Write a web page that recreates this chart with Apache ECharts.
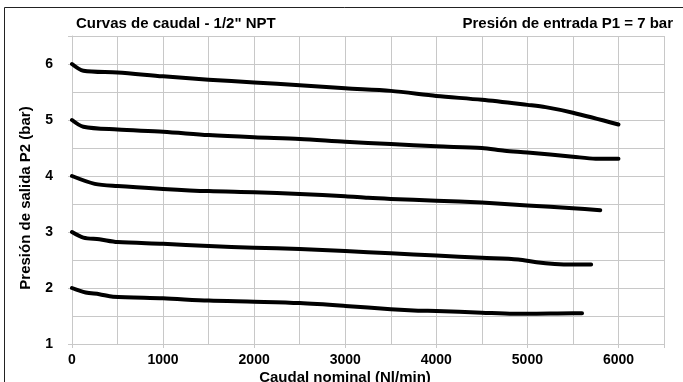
<!DOCTYPE html>
<html>
<head>
<meta charset="utf-8">
<script src="https://cdn.jsdelivr.net/npm/echarts@6/dist/echarts.min.js"></script>
<style>
  html, body { margin: 0; padding: 0; background: #fff; }
  #chart { width: 683px; height: 382px; }
</style>
</head>
<body>
<div id="chart"></div>
<script>
// Caudal nominal (Nl/min) y presión de salida P2 (bar) para cada curva
const flowP6 = [0, 125, 500, 1000, 1500, 2000, 2500, 3000, 3500, 4000, 4500, 5000, 5200, 5500, 6000];
const presP6 = [6.0, 5.88, 5.85, 5.78, 5.72, 5.67, 5.62, 5.565, 5.52, 5.43, 5.36, 5.27, 5.23, 5.13, 4.92];

const flowP5 = [0, 125, 500, 1000, 1500, 2000, 2500, 3000, 3500, 4000, 4500, 4750, 5000, 5500, 5750, 6000];
const presP5 = [5.0, 4.88, 4.83, 4.79, 4.73, 4.69, 4.66, 4.61, 4.57, 4.53, 4.50, 4.45, 4.42, 4.345, 4.31, 4.31];

const flowP4 = [0, 250, 500, 1000, 1500, 2000, 2500, 3000, 3250, 3500, 4000, 4500, 5000, 5500, 5800];
const presP4 = [4.0, 3.86, 3.82, 3.77, 3.73, 3.71, 3.68, 3.64, 3.61, 3.59, 3.56, 3.525, 3.475, 3.425, 3.39];

const flowP3 = [0, 125, 300, 500, 1000, 1500, 2000, 2500, 3000, 3500, 4000, 4500, 4900, 5100, 5300, 5500, 5700];
const presP3 = [3.0, 2.90, 2.87, 2.82, 2.79, 2.75, 2.72, 2.695, 2.66, 2.62, 2.58, 2.54, 2.51, 2.46, 2.43, 2.42, 2.42];

const flowP2 = [0, 150, 300, 450, 1000, 1500, 2000, 2500, 3000, 3500, 3800, 4000, 4500, 4850, 5000, 5500, 5600];
const presP2 = [2.0, 1.92, 1.89, 1.845, 1.815, 1.775, 1.755, 1.73, 1.68, 1.62, 1.595, 1.59, 1.56, 1.54, 1.54, 1.55, 1.55];

const chartTitle = 'Curvas de caudal - 1/2" NPT';
const inletLabel = 'Presión de entrada P1 = 7 bar';
const xName = 'Caudal nominal (Nl/min)';
const yName = 'Presión de salida P2 (bar)';

const curves = [
  [flowP6, presP6], [flowP5, presP5], [flowP4, presP4], [flowP3, presP3], [flowP2, presP2]
];

const FONT = '"Liberation Sans", Arial, Helvetica, sans-serif';
const gridColor = '#c8c8c8';

const chart = echarts.init(document.getElementById('chart'), null, { renderer: 'canvas' });

chart.setOption({
  animation: false,
  backgroundColor: '#ffffff',
  grid: { left: 72, top: 36, width: 592, height: 308, containLabel: false },
  xAxis: {
    type: 'value', min: 0, max: 6500, interval: 1000,
    axisLine: { show: true, lineStyle: { color: gridColor, width: 1 } },
    axisTick: { show: true, length: 4, lineStyle: { color: gridColor } },
    axisLabel: {
      margin: 9, color: '#000', fontFamily: FONT, fontWeight: 'bold', fontSize: 14,
      formatter: v => (v % 1000 === 0 ? String(v) : '')
    },
    splitLine: { show: true, lineStyle: { color: gridColor, width: 1 } },
    minorTick: { show: false, splitNumber: 2 },
    minorSplitLine: { show: true, lineStyle: { color: gridColor, width: 1 } }
  },
  yAxis: {
    type: 'value', min: 1, max: 6.5, interval: 1,
    axisLine: { show: true, lineStyle: { color: gridColor, width: 1 } },
    axisTick: { show: true, length: 4, lineStyle: { color: gridColor } },
    axisLabel: {
      margin: 19, color: '#000', fontFamily: FONT, fontWeight: 'bold', fontSize: 14,
      formatter: v => (Math.abs(v - Math.round(v)) < 1e-9 ? String(Math.round(v)) : '')
    },
    splitLine: { show: true, lineStyle: { color: gridColor, width: 1 } },
    minorTick: { show: false, splitNumber: 2 },
    minorSplitLine: { show: true, lineStyle: { color: gridColor, width: 1 } }
  },
  series: curves.map(([fx, py]) => ({
    type: 'line',
    data: fx.map((x, i) => [x, py[i]]),
    smooth: 0.3,
    showSymbol: false,
    symbol: 'none',
    lineStyle: { color: '#000', width: 4, cap: 'round', join: 'round' },
    silent: true
  })),
  graphic: [
    {
      type: 'rect', silent: true,
      shape: { x: 4.5, y: 7.5, width: 700, height: 400 },
      style: { fill: 'none', stroke: '#222', lineWidth: 1 }
    },
    {
      type: 'text', left: 76, top: 16, silent: true,
      style: { text: chartTitle, font: 'bold 15px ' + FONT, fill: '#000' }
    },
    {
      type: 'text', right: 10, top: 16, silent: true,
      style: { text: inletLabel, font: 'bold 15px ' + FONT, fill: '#000' }
    },
    {
      type: 'text', x: 345, y: 378, silent: true,
      style: { text: xName, font: 'bold 15px ' + FONT, fill: '#000', align: 'center', verticalAlign: 'middle' }
    },
    {
      type: 'text', x: 26, y: 198, rotation: Math.PI / 2, silent: true,
      style: { text: yName, font: 'bold 15px ' + FONT, fill: '#000', align: 'center', verticalAlign: 'middle' }
    }
  ]
});
</script>
</body>
</html>
